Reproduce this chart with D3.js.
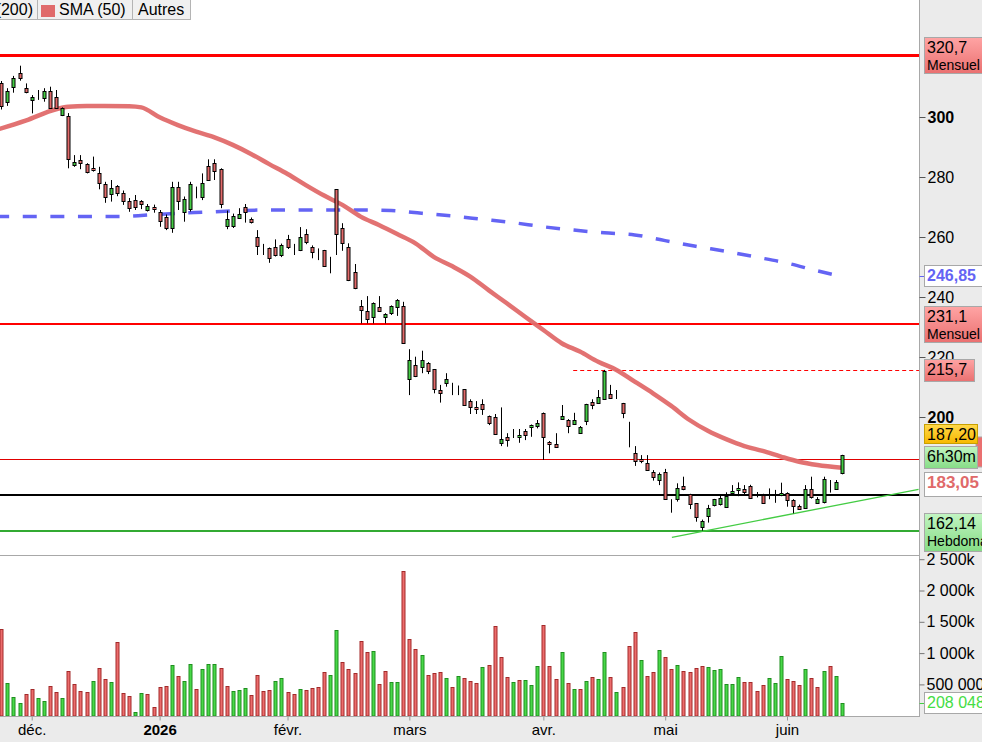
<!DOCTYPE html>
<html>
<head>
<meta charset="utf-8">
<script src="https://cdn.jsdelivr.net/npm/d3@7"></script>
<style>
body { margin: 0; background: #fff; }
svg { display: block; font-family: "Liberation Sans", Arial, sans-serif; }
</style>
</head>
<body>
<div id="chart"></div>
<script>
// daily candles, index 1 = 24 nov. 2025 ... index 139 = 12 juin 2026
var firstIndex = 1;
var opens = [311.2,305.1,309.9,314.6,309.6,305.9,307.1,306.6,308.8,306.6,
  300.7,300.5,284.0,285.6,284.3,282.9,281.2,277.7,274.2,277.0,
  274.8,272.1,272.2,271.9,269.2,270.1,268.2,266.8,263.2,276.6,
  268.2,269.2,275.9,273.2,283.7,284.6,282.6,263.7,263.7,266.2,
  269.9,265.9,259.9,256.8,256.2,256.8,254.0,259.2,255.9,255.9,
  260.9,256.6,254.8,255.5,250.5,275.9,262.9,256.8,248.2,237.1,
  235.4,233.2,236.6,233.4,234.6,236.6,237.0,212.6,217.3,216.6,
  218.1,215.9,209.0,211.4,209.6,210.4,209.2,205.3,203.2,204.2,
  200.3,199.9,191.4,193.2,194.6,193.2,195.4,196.6,196.8,201.4,
  191.8,190.9,199.2,199.0,197.7,194.8,198.7,205.1,204.6,206.2,
  207.6,206.4,204.6,191.0,188.1,185.9,184.8,181.8,179.0,181.8,
  171.0,172.6,177.0,174.3,171.2,163.2,167.1,170.5,171.2,170.1,
  174.8,175.7,175.9,177.0,174.3,174.0,173.8,174.2,174.3,174.6,
  172.3,170.3,169.6,175.9,171.4,171.4,178.4,176.2,181.2];
var highs = [312.0,309.6,313.7,317.1,311.2,307.3,309.0,309.6,310.1,309.0,
  303.2,301.3,287.3,287.3,284.6,286.8,283.4,278.4,279.0,277.3,
  275.5,273.0,274.0,272.3,271.0,270.8,269.0,267.5,278.4,278.4,
  273.5,278.4,276.8,281.2,285.9,285.9,282.9,268.8,267.8,269.6,
  271.0,266.5,262.3,257.7,256.5,259.2,257.8,260.7,257.7,263.3,
  262.6,257.2,256.2,255.7,253.4,276.0,264.6,257.9,251.0,239.0,
  240.3,238.2,240.3,234.6,237.2,239.3,238.4,222.6,220.1,222.1,
  218.3,216.0,210.7,214.6,211.4,210.5,209.3,205.9,205.3,205.9,
  200.5,201.0,203.2,194.6,196.0,196.0,196.0,197.5,199.0,201.5,
  192.0,194.6,204.0,199.3,201.4,197.0,204.4,205.9,209.0,215.7,
  210.7,209.0,204.7,198.4,190.3,187.3,187.3,182.3,181.5,182.7,
  172.6,177.9,180.1,174.4,171.3,165.8,170.7,172.7,174.3,174.9,
  177.3,178.2,177.3,177.4,175.0,174.4,176.2,175.7,178.1,174.9,
  172.6,170.8,177.3,180.1,173.3,180.1,179.0,179.0,187.4];
var lows = [302.5,303.7,308.1,312.1,307.9,301.2,305.7,305.1,302.9,302.9,
  300.3,282.9,283.4,282.6,281.2,281.8,275.9,271.4,271.8,273.6,
  270.7,268.4,269.0,269.3,268.5,268.1,263.4,262.3,261.4,269.0,
  265.1,268.5,272.9,272.3,278.7,279.0,269.6,262.6,263.0,266.0,
  264.8,264.5,254.0,254.0,251.4,253.5,253.3,256.0,254.0,255.3,
  257.6,252.9,252.3,250.0,247.9,254.0,255.4,245.3,242.6,231.2,
  231.2,231.2,235.0,231.2,234.0,233.7,224.8,207.3,213.3,214.6,
  214.3,207.9,204.8,210.1,207.3,207.3,203.7,201.0,201.0,200.7,
  197.3,194.3,190.3,190.1,193.0,191.4,192.3,193.4,196.2,185.7,
  187.9,189.7,199.0,194.6,197.5,194.5,197.3,202.6,204.5,206.2,
  206.0,206.0,199.6,189.9,183.7,184.6,182.2,178.8,177.3,172.9,
  168.1,171.8,175.6,169.3,165.1,162.14,164.8,170.2,170.5,169.8,
  174.3,173.6,174.3,172.9,173.2,171.2,172.6,171.4,173.6,170.1,
  167.9,169.0,169.4,172.8,171.2,171.2,174.8,176.0,180.9];
var closes = [303.4,308.8,312.9,312.8,308.4,306.8,307.0,308.8,303.2,302.9,
  303.0,286.2,284.9,284.6,281.8,282.1,277.9,273.4,276.2,274.6,
  272.1,269.9,269.9,271.0,270.4,269.6,265.1,263.2,276.8,272.1,
  272.6,277.6,275.8,277.9,279.2,281.8,271.0,265.9,267.0,267.6,
  268.1,264.8,256.8,256.7,252.9,254.0,257.3,256.6,255.8,260.1,
  258.1,254.8,254.7,250.1,250.4,260.9,257.9,245.7,242.9,235.9,
  232.6,237.9,235.4,234.3,237.0,239.0,224.8,219.0,213.8,219.0,
  215.4,209.2,207.9,212.6,209.5,210.4,204.0,203.4,202.6,202.7,
  198.1,194.3,192.6,192.3,194.5,194.0,194.0,197.3,197.9,193.4,
  191.0,189.9,200.3,197.0,199.0,196.8,204.3,204.2,206.6,215.4,
  206.2,206.4,201.2,190.9,185.4,185.3,182.3,180.3,180.9,172.9,
  171.0,176.2,175.9,170.9,166.6,165.3,169.8,172.6,173.1,173.7,
  175.4,176.2,174.8,172.9,174.3,171.4,173.8,174.1,174.8,172.3,
  170.3,169.2,175.9,173.2,172.6,179.2,178.4,178.4,187.2];
// volume in thousands of shares, colour from change vs previous close
var volumes = [1385,517,299,198,347,421,278,235,474,378,
  283,714,506,394,378,554,762,586,538,1177,
  362,315,59,362,347,139,458,474,810,634,
  554,826,426,746,826,826,762,474,394,410,
  442,330,650,394,410,554,602,378,347,426,
  410,442,458,693,645,1364,853,741,677,1188,
  1012,1028,501,709,533,533,2306,1220,1060,965,
  645,677,693,597,453,629,597,549,517,773,
  805,1428,933,613,533,565,565,485,789,1444,
  789,581,1012,517,421,421,549,613,581,1012,
  613,373,453,1108,1332,889,629,693,1049,933,
  741,805,709,693,757,789,773,725,741,501,
  501,613,533,533,389,485,597,517,949,581,
  549,485,741,597,453,709,789,629,208];
var volumeUp = [0,1,1,1,0,0,1,1,0,0,
  1,0,0,0,0,1,0,0,1,0,
  0,0,1,1,0,0,0,0,1,0,
  1,1,0,1,1,1,0,0,1,1,
  1,0,0,0,0,1,1,0,0,1,
  0,0,0,0,1,1,0,0,0,0,
  0,1,0,0,1,1,0,0,0,1,
  0,0,0,1,0,1,0,0,0,1,
  0,0,0,0,1,0,1,1,1,0,
  0,0,1,0,1,0,1,0,1,1,
  0,1,0,0,0,1,0,0,1,0,
  0,1,0,0,0,0,1,1,1,1,
  1,1,0,0,0,0,1,1,1,0,
  0,0,1,0,0,1,0,1,1];

var sma50Index = [0,5,10,12,15,18,22,24,27,30,33,36,39,42,45,48,51,54,57,60,63,66,69,72,75,78,81,84,87,90,93,96,99,102,105,108,111,114,117,120,123,126,129,132,135,139];
var sma50Values = [295.6,298.8,302.6,303.4,303.7,303.7,303.6,303.2,299.9,297.3,295.1,293.2,290.7,287.7,284.3,281.0,277.3,273.8,270.7,266.8,264.0,261.0,257.9,253.4,250.3,246.8,242.3,237.9,233.4,229.0,224.6,221.8,218.4,215.7,211.8,207.9,203.7,199.0,195.4,192.6,190.3,188.7,186.8,185.1,184.0,183.05];
var sma200Index = [0,20,25,30,35,40,45,55,60,65,70,75,80,85,90,95,100,105,110,115,120,125,130,135,139];
var sma200Values = [266.8,266.8,267.3,267.9,268.3,268.8,269.0,269.0,269.0,268.8,267.9,267.0,265.9,264.8,263.4,262.3,261.4,260.7,258.8,256.9,255.2,253.3,251.3,248.7,246.85];

var monthIndex = [6,27,48,68,90,110,130];
var monthLabels = ["déc.","2026","févr.","mars","avr.","mai","juin"];
var priceTicks = [300,280,260,240,220,200];
var volumeTicks = [2500,2000,1500,1000,500];
var volumeTickLabels = ["2 500k","2 000k","1 500k","1 000k","500 000"];

var monthlyHigh = 320.7, monthlyLow = 231.1, swingHigh = 215.7, swingHighFrom = 94.9;
var timeLine = 185.9, supportLine = 174.0, weeklyLow = 162.14;
var trendIndex = [111.1,151.6], trendValues = [159.9,175.9];
var lastPrice = 187.20, lastSma50 = 183.05, lastSma200 = 246.85, lastVolume = 208048;

var W = 982, H = 742, plotR = 919;
var svg = d3.select("#chart").append("svg").attr("width", W).attr("height", H);

var x = d3.scaleLinear().domain([6, 130]).range([31.7, 787]);
var y = d3.scaleLinear().domain([200, 300]).range([417, 117]);
var yv = d3.scaleLinear().domain([0, 2500]).range([715.7, 559.2]);

var defs = svg.append("defs");
defs.append("clipPath").attr("id", "clipPrice").append("rect").attr("x", 0).attr("y", 0).attr("width", plotR).attr("height", 555);
defs.append("clipPath").attr("id", "clipVol").append("rect").attr("x", 0).attr("y", 556).attr("width", plotR).attr("height", 160);
function grad(id, c1, c2) {
  var g = defs.append("linearGradient").attr("id", id).attr("x1", 0).attr("y1", 0).attr("x2", 0).attr("y2", 1);
  g.append("stop").attr("offset", "0%").attr("stop-color", c1);
  g.append("stop").attr("offset", "100%").attr("stop-color", c2);
}
grad("gRed", "#ffa4a4", "#ea7070");
grad("gGreen", "#c2f5c2", "#86dc86");
grad("gYellow", "#ffd84a", "#f7b800");

// backgrounds and frames
svg.append("rect").attr("width", W).attr("height", H).attr("fill", "#fff");
svg.append("rect").attr("x", 920).attr("y", 0).attr("width", W - 920).attr("height", H).attr("fill", "#ebebeb");
svg.append("rect").attr("x", 0).attr("y", 717).attr("width", W).attr("height", H - 717).attr("fill", "#ebebeb");
svg.append("line").attr("x1", 919.5).attr("x2", 919.5).attr("y1", 0).attr("y2", 717).attr("stroke", "#a8a8a8");
svg.append("line").attr("x1", 0).attr("x2", 919.5).attr("y1", 555.5).attr("y2", 555.5).attr("stroke", "#a8a8a8");
svg.append("line").attr("x1", 0).attr("x2", 919.5).attr("y1", 716.5).attr("y2", 716.5).attr("stroke", "#a8a8a8");

var bars = d3.range(opens.length);
function cx(i) { return Math.round(x(i + firstIndex)); }

// price panel
var price = svg.append("g").attr("clip-path", "url(#clipPrice)");

function hline(v, color, width, dash, fromIdx) {
  var yy = Math.round(y(v)) + (width % 2 ? 0.5 : 0);
  price.append("line")
    .attr("x1", fromIdx == null ? 0 : x(fromIdx)).attr("x2", plotR + 6)
    .attr("y1", yy).attr("y2", yy)
    .attr("stroke", color).attr("stroke-width", width)
    .attr("stroke-dasharray", dash || null);
}
hline(monthlyHigh, "#ff0000", 3);
hline(monthlyLow, "#ff0000", 2);
hline(swingHigh, "#ff0000", 1, "4,3", swingHighFrom);
hline(timeLine, "#e00000", 1);
hline(supportLine, "#000", 2);
hline(weeklyLow, "#33aa33", 2);

price.append("line")
  .attr("x1", x(trendIndex[0])).attr("y1", y(trendValues[0]))
  .attr("x2", x(trendIndex[1])).attr("y2", y(trendValues[1]))
  .attr("stroke", "#44cc44").attr("stroke-width", 1.3);

var line = d3.line().x(function(d) { return x(d[0]); }).y(function(d) { return y(d[1]); }).curve(d3.curveMonotoneX);
price.append("path")
  .datum(d3.zip(sma200Index, sma200Values))
  .attr("d", line).attr("fill", "none")
  .attr("stroke", "#6464f4").attr("stroke-width", 3.5).attr("stroke-dasharray", "14,13.6");
price.append("path")
  .datum(d3.zip(sma50Index, sma50Values))
  .attr("d", line).attr("fill", "none")
  .attr("stroke", "#e06a6a").attr("stroke-opacity", 0.95).attr("stroke-width", 4.5);

var candle = price.selectAll(".candle").data(bars).enter().append("g").attr("class", "candle");
candle.append("line")
  .attr("x1", function(i) { return cx(i) + 0.5; })
  .attr("x2", function(i) { return cx(i) + 0.5; })
  .attr("y1", function(i) { return y(highs[i]); })
  .attr("y2", function(i) { return y(lows[i]); })
  .attr("stroke", "#000").attr("stroke-width", 1);
candle.append("rect")
  .attr("x", function(i) { return cx(i) - 1; })
  .attr("width", 3)
  .attr("y", function(i) { return Math.round(y(Math.max(opens[i], closes[i]))) + 0.5; })
  .attr("height", function(i) { return Math.max(0, Math.round(Math.abs(y(opens[i]) - y(closes[i])))); })
  .attr("fill", function(i) { return closes[i] >= opens[i] ? "#44cc44" : "#e26a6a"; })
  .attr("stroke", "#000").attr("stroke-width", 1);

// volume panel
var vol = svg.append("g").attr("clip-path", "url(#clipVol)");
vol.selectAll("rect").data(bars).enter().append("rect")
  .attr("x", function(i) { return cx(i) - 1; })
  .attr("width", 3)
  .attr("y", function(i) { return Math.round(yv(volumes[i])) + 0.5; })
  .attr("height", function(i) { return Math.max(0, 716 - Math.round(yv(volumes[i])) - 0.5); })
  .attr("fill", function(i) { return volumeUp[i] ? "#48d848" : "#ec6c6c"; })
  .attr("stroke", function(i) { return volumeUp[i] ? "#1f8f1f" : "#a32a2a"; })
  .attr("stroke-width", 1);

// axes
var ay = svg.append("g").attr("transform", "translate(919.5,0)")
  .call(d3.axisRight(y).tickValues(priceTicks).tickSize(6).tickPadding(2));
ay.select(".domain").remove();
ay.selectAll("text").attr("font-size", 16).attr("font-family", "Liberation Sans, Arial")
  .attr("fill", "#000").attr("font-weight", function(d) { return d % 100 === 0 ? "bold" : "normal"; });
ay.selectAll("line").attr("stroke", "#555");

var av = svg.append("g").attr("transform", "translate(919.5,0)")
  .call(d3.axisRight(yv).tickValues(volumeTicks).tickSize(5).tickPadding(2)
    .tickFormat(function(d, i) { return volumeTickLabels[i]; }));
av.select(".domain").remove();
av.selectAll("text").attr("font-size", 16).attr("font-family", "Liberation Sans, Arial").attr("fill", "#000");
av.selectAll("line").attr("stroke", "#777");

var ax = svg.append("g").attr("transform", "translate(0,716.5)")
  .call(d3.axisBottom(x).tickValues(monthIndex).tickSize(4).tickPadding(4)
    .tickFormat(function(d, i) { return monthLabels[i]; }));
ax.select(".domain").remove();
ax.selectAll("line").attr("stroke", "#999");
ax.selectAll("text").attr("font-size", 15).attr("font-family", "Liberation Sans, Arial").attr("fill", "#000")
  .attr("font-weight", function(d, i) { return monthLabels[i] === "2026" ? "bold" : "normal"; });

// right-hand value labels
function tag(yTop, h, w, fill, stroke, lines, color, bold, size) {
  var g = svg.append("g");
  g.append("rect").attr("x", 924.5).attr("y", yTop + 0.5).attr("width", w).attr("height", h)
    .attr("fill", fill).attr("stroke", stroke).attr("stroke-width", 1);
  lines.forEach(function(t, k) {
    g.append("text").attr("x", 927).attr("y", yTop + 16 + k * 17)
      .attr("font-size", k === 0 ? (size || 16) : 14).attr("font-weight", bold ? "bold" : "normal")
      .attr("fill", color).text(t);
  });
}
function tick(v, color, scale) {
  var yy = Math.round((scale || y)(v)) + 0.5;
  svg.append("line").attr("x1", 919.5).attr("x2", 924.5).attr("y1", yy).attr("y2", yy).attr("stroke", color);
}
tick(lastSma200, "#6464f4");
tag(Math.round(y(monthlyHigh)) - 18, 36, 60, "url(#gRed)", "#a8a8a8", ["320,7", "Mensuel"], "#000");
tag(Math.round(y(lastSma200)) - 11, 21, 60, "#fff", "#a8a8a8", ["246,85"], "#6464f4", true);
tag(Math.round(y(monthlyLow)) - 18, 36, 60, "url(#gRed)", "#a8a8a8", ["231,1", "Mensuel"], "#000");
tag(Math.round(y(swingHigh)) - 11, 22, 50, "url(#gRed)", "#a8a8a8", ["215,7"], "#000");
svg.append("rect").attr("x", 976).attr("y", Math.round(y(lastPrice)) - 18).attr("width", 8).attr("height", 30)
  .attr("fill", "#ea7070").attr("stroke", "#a8a8a8");
tag(Math.round(y(lastPrice)) - 31, 19, 53, "url(#gYellow)", "#c8a000", ["187,20"], "#000");
tag(Math.round(y(timeLine)) - 13, 22, 53, "url(#gGreen)", "#a8a8a8", ["6h30m"], "#000");
tag(Math.round(y(lastSma50)) + 4, 24, 60, "#fff", "#a8a8a8", ["183,05"], "#e06a6a", true, 17);
tag(Math.round(y(weeklyLow)) - 18, 38, 60, "url(#gGreen)", "#a8a8a8", ["162,14", "Hebdoma"], "#000");
tick(lastVolume / 1000, "#44cc44", yv);
tag(Math.round(yv(lastVolume / 1000)) - 11, 21, 60, "#fff", "#a8a8a8", ["208 048"], "#44dd44");

// legend strip at the top
var leg = svg.append("g").attr("font-size", 16);
[[-1, 38], [37, 95], [132, 58]].forEach(function(b) {
  leg.append("rect").attr("x", b[0] + 0.5).attr("y", -0.5).attr("width", b[1]).attr("height", 20)
    .attr("fill", "#f0f0f0").attr("stroke", "#b4b4b4");
});
leg.append("text").attr("x", 33).attr("y", 15).attr("text-anchor", "end").text("(200)");
leg.append("rect").attr("x", 41).attr("y", 5).attr("width", 14).attr("height", 12).attr("fill", "#e06a6a");
leg.append("text").attr("x", 59).attr("y", 15).text("SMA (50)");
leg.append("text").attr("x", 138).attr("y", 15).text("Autres");
</script>
</body>
</html>
